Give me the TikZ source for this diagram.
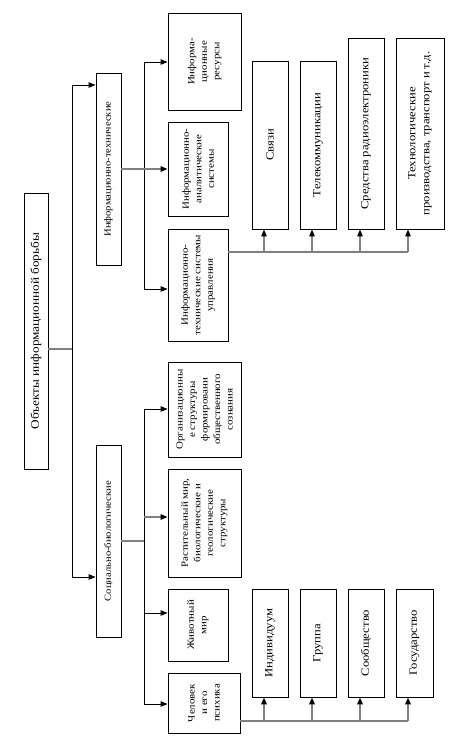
\documentclass[tikz,border=0pt]{standalone}
\usepackage{fontspec}
\setmainfont{Liberation Serif}[FakeStretch=1.15]
\usetikzlibrary{arrows.meta}
\begin{document}
\begin{tikzpicture}[x=1pt,y=-1pt,
    caja/.style={draw,line width=0.9pt,fill=white,rotate=90,align=center,inner sep=1pt,
        font=\fontsize{9.5}{12.5}\selectfont},
    hoja/.style={caja,font=\fontsize{11}{14}\selectfont},
    linea/.style={line width=0.9pt},
    gris/.style={line width=1.5pt,draw=gray},
    flecha/.style={-{Triangle[length=7pt,width=5.5pt,color=black]}}]
    \useasboundingbox (0,0) rectangle (457,745);
    % Raiz
    \node[caja,font=\fontsize{11.5}{14}\selectfont,minimum width=276,minimum height=24] (raiz) at (36,331) {Объекты информационной борьбы};
    \node[caja,font=\fontsize{9.2}{12}\selectfont,minimum width=192,minimum height=25] (tec) at (108.5,169) {Информационно-технические};
    \node[caja,font=\fontsize{9.2}{12}\selectfont,minimum width=192,minimum height=25] (soc) at (108.5,541) {Социально-биологические};
    \coordinate (r0) at (72,349);
    \coordinate (a1) at (72,85);
    \coordinate (a2) at (72,577);
    \draw[gris] (r0 -| raiz.south) -- (r0);
    \draw[linea] (a1) -- (a2);
    \draw[linea,flecha] (a1) -- (a1 -| tec.north);
    \draw[linea,flecha] (a2) -- (a2 -| soc.north);
    % Rama tecnica
    \node[caja,minimum width=97,minimum height=73] (ires) at (204.5,61.5) {Информа-\\ционные\\ресурсы};
    \node[caja,minimum width=94,minimum height=60] (ianal) at (198,169) {Информационно-\\аналитические\\системы};
    \node[caja,minimum width=112,minimum height=60] (itsu) at (198,285) {Информационно-\\технические системы\\управления};
    \coordinate (b0) at (144,169);
    \coordinate (b1) at (144,62);
    \coordinate (b3) at (144,289);
    \draw[gris] (b0 -| tec.south) -- (b0);
    \draw[linea] (b1) -- (b3);
    \draw[linea,flecha] (b1) -- (b1 -| ires.north);
    \draw[gris,flecha] (b0) -- (b0 -| ianal.north);
    \draw[linea,flecha] (b3) -- (b3 -| itsu.north);
    \node[hoja,minimum width=168,minimum height=36] (svyazi) at (270,145) {Связи};
    \node[hoja,minimum width=168,minimum height=36] (tele) at (318,145) {Телекоммуникации};
    \node[hoja,minimum width=191,minimum height=36] (sredstva) at (366,133.5) {Средства радиоэлектроники};
    \node[hoja,minimum width=191,minimum height=48] (tehno) at (420,133.5) {Технологические\\производства, транспорт и т.д.};
    \coordinate (c4) at (408,252);
    \draw[gris] (c4 -| itsu.south) -- (c4);
    \foreach \x/\n in {264/svyazi,312/tele,360/sredstva,408/tehno}{
        \coordinate (p-\n) at (\x,252);
        \draw[gris,flecha] (p-\n) -- (p-\n |- \n.west);
    }
    % Rama social
    \node[caja,minimum width=95,minimum height=73] (org) at (204.5,409.5) {Организационны\\е структуры\\формировани\\общественного\\сознания};
    \node[caja,minimum width=108,minimum height=73] (rast) at (204.5,523) {Растительный мир,\\биологические и\\геологические\\структуры};
    \node[caja,minimum width=72,minimum height=60] (zhiv) at (198,625) {Животный\\мир};
    \node[caja,minimum width=60,minimum height=72] (chel) at (204,703) {Человек\\и его\\психика};
    \coordinate (d0) at (144,541);
    \coordinate (d1) at (144,409);
    \coordinate (d2) at (144,517);
    \coordinate (d3) at (144,613);
    \coordinate (d4) at (144,704);
    \draw[gris] (d0 -| soc.south) -- (d0);
    \draw[linea] (d1) -- (d4);
    \draw[linea,flecha] (d1) -- (d1 -| org.north);
    \draw[gris,flecha] (d2) -- (d2 -| rast.north);
    \draw[linea,flecha] (d3) -- (d3 -| zhiv.north);
    \draw[linea,flecha] (d4) -- (d4 -| chel.north);
    \node[hoja,minimum width=108,minimum height=36] (indiv) at (270,643) {Индивидуум};
    \node[hoja,minimum width=108,minimum height=36] (gruppa) at (318,643) {Группа};
    \node[hoja,minimum width=108,minimum height=36] (soob) at (366,643) {Сообщество};
    \node[hoja,minimum width=108,minimum height=37] (gos) at (414.5,643) {Государство};
    \coordinate (e4) at (408,721);
    \draw[gris] (e4 -| chel.south) -- (e4);
    \foreach \x/\n in {264/indiv,312/gruppa,360/soob,408/gos}{
        \coordinate (q-\n) at (\x,721);
        \draw[gris,flecha] (q-\n) -- (q-\n |- \n.west);
    }
\end{tikzpicture}
\end{document}
